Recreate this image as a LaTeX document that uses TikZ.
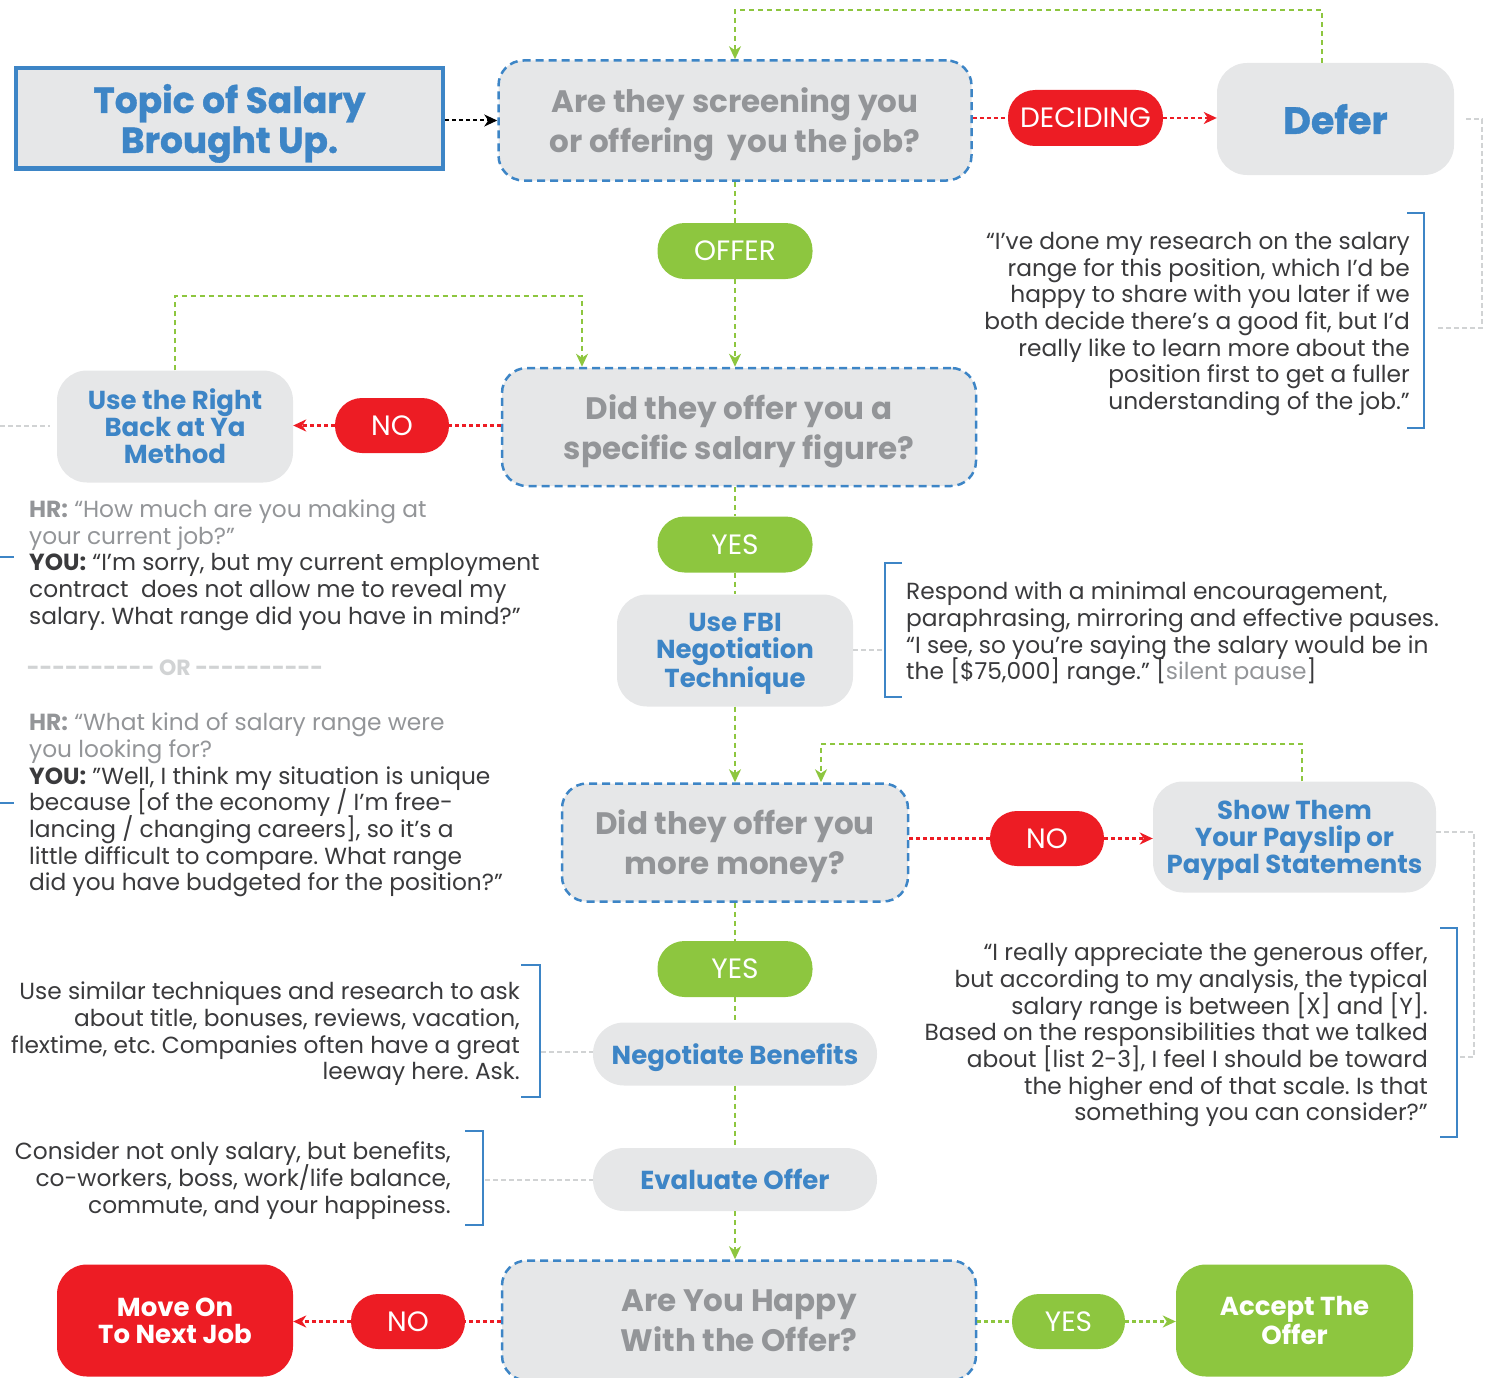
\documentclass[tikz,border=0pt]{standalone}
\usepackage{fontspec}
\setmainfont{Poppins}
\usetikzlibrary{positioning,calc,arrows.meta}

\definecolor{hrblue}{HTML}{3D85C6}
\definecolor{boxgray}{HTML}{E6E7E8}
\definecolor{askgray}{HTML}{939598}
\definecolor{nored}{HTML}{ED1C24}
\definecolor{yesgreen}{HTML}{8DC63F}
\definecolor{inkgray}{HTML}{3A3A3C}
\definecolor{notegray}{HTML}{D1D3D4}

\newcommand{\dashrow}{-{}-{}-{}-{}-{}-{}-{}-{}-{}-}
\newcommand{\sayfont}{\fontsize{23.3}{26.7}\selectfont\frenchspacing\lineskiplimit=-50pt\relax}

\tikzset{
  boxtext/.style={align=center, inner sep=0pt, text depth=0pt},
  question/.style={boxtext, draw=hrblue, line width=2.5pt, dash pattern=on 8pt off 5pt,
    fill=boxgray, rounded corners=25pt, text=askgray,
    font=\fontsize{31}{40}\selectfont\bfseries},
  stepbox/.style={boxtext, fill=boxgray, rounded corners=30pt, text=hrblue,
    font=\fontsize{26}{27}\selectfont\bfseries},
  pill/.style={boxtext, rounded corners=27pt, text=white,
    font=\fontsize{28}{30}\selectfont, minimum height=56pt},
  say/.style={text=inkgray, font=\sayfont, inner sep=0pt},
  flow/.style={yesgreen, line width=2pt, dash pattern=on 5pt off 4pt},
  okflow/.style={yesgreen, line width=2.5pt, dash pattern=on 4pt off 3pt},
  noflow/.style={nored, line width=2.5pt, dash pattern=on 4pt off 3pt},
  note/.style={notegray, line width=2.5pt, dash pattern=on 5pt off 3pt},
  brack/.style={hrblue, line width=2.5pt}
}

\begin{document}
\begin{tikzpicture}[x=1pt, y=-1pt, >={Stealth[length=13pt,width=12pt,inset=4pt]}]

  \useasboundingbox (0,0) rectangle (1494,1378);
  \clip (0,0) rectangle (1494,1378);

  % top row
  \node[boxtext, draw=hrblue, line width=4pt, fill=boxgray, minimum width=427pt, minimum height=100pt,
    text=hrblue, font=\fontsize{36}{40}\selectfont\bfseries\addfontfeature{FakeBold=1}]
    (topic) at (229.5,118.5) {Topic of Salary\\Brought Up.};
  \node[question, minimum width=473pt, minimum height=120pt] (scr) at (735,120.5)
    {Are they screening you\\or offering~ you the job?};
  \node[pill, fill=nored, minimum width=155pt] (dec) at (1085.5,118) {DECIDING};
  \node[stepbox, minimum width=237pt, minimum height=112pt,
    font=\fontsize{38}{40}\selectfont\bfseries\addfontfeature{FakeBold=1}] (defer) at (1335.5,119) {Defer};

  \node[say, align=right, anchor=east] (deferq) at (1410,324)
    {“I’ve done my research on the salary\\
     range for this position, which I’d be\\
     happy to share with you later if we\\
     both decide there’s a good fit, but I’d\\
     really like to learn more about the\\
     position first to get a fuller\\
     understanding of the job.”};

  % salary figure
  \node[pill, fill=yesgreen, minimum width=155pt] (offer) at (735,251) {OFFER};
  \node[question, minimum width=474pt, minimum height=118pt] (spec) at (739,427)
    {Did they offer you a\\specific salary figure?};
  \node[pill, fill=nored, minimum width=114pt, minimum height=55pt] (nob) at (392,425.5) {NO};
  \node[stepbox, minimum width=236pt, minimum height=112pt] (rb) at (175,426.5)
    {Use the Right\\Back at Ya\\Method};

  \node[say, align=left, anchor=west] (hrone) at (29,565)
    {\textcolor{askgray}{\textbf{HR:} “How much are you making at}\\
     \textcolor{askgray}{your current job?”}\\
     \textbf{YOU:} “I’m sorry, but my current employment\\
     contract~ does not allow me to reveal my\\
     salary. What range did you have in mind?”};
  \node[text=notegray, font=\fontsize{22}{26}\selectfont\bfseries, inner sep=0pt]
    (orline) at (175,668) {\dashrow{} OR \dashrow};
  \node[say, align=left, anchor=west] (hrtwo) at (29,805)
    {\textcolor{askgray}{\textbf{HR:} “What kind of salary range were}\\
     \textcolor{askgray}{you looking for?}\\
     \textbf{YOU:} ”Well, I think my situation is unique\\
     because [of the economy / I’m free-\\
     lancing / changing careers], so it’s a\\
     little difficult to compare. What range\\
     did you have budgeted for the position?”};

  \node[pill, fill=yesgreen, minimum width=155pt] (yesa) at (735,544.5) {YES};
  \node[stepbox, minimum width=236pt, minimum height=112pt] (fbi) at (735,650.5)
    {Use FBI\\Negotiation\\Technique};
  \node[say, align=left, anchor=west] (fbiq) at (906,634)
    {Respond with a minimal encouragement,\\
     paraphrasing, mirroring and effective pauses.\\
     “I see, so you’re saying the salary would be in\\
     the [\$75,000] range.” [\textcolor{askgray}{silent pause}]};

  % more money
  \node[question, minimum width=346pt, minimum height=118pt] (more) at (735,842.5)
    {Did they offer you\\more money?};
  \node[pill, fill=nored, minimum width=114pt, minimum height=55pt] (noc) at (1047,838.5) {NO};
  \node[stepbox, minimum width=283pt, minimum height=111pt] (show) at (1294.5,837)
    {Show Them\\Your Payslip or\\Paypal Statements};
  \node[say, align=right, anchor=east] (showq) at (1428,1035)
    {“I really appreciate the generous offer,\\
     but according to my analysis, the typical\\
     salary range is between [X] and [Y].\\
     Based on the responsibilities that we talked\\
     about [list 2-3], I feel I should be toward\\
     the higher end of that scale. Is that\\
     something you can consider?”};

  \node[pill, fill=yesgreen, minimum width=155pt] (yesb) at (735,969) {YES};
  \node[stepbox, minimum width=284pt, minimum height=63pt, rounded corners=31pt] (nego)
    at (735,1054) {Negotiate Benefits};
  \node[say, align=right, anchor=east] (negoq) at (520,1034)
    {Use similar techniques and research to ask\\
     about title, bonuses, reviews, vacation,\\
     flextime, etc. Companies often have a great\\
     leeway here. Ask.};
  \node[stepbox, minimum width=284pt, minimum height=63pt, rounded corners=31pt] (eval)
    at (735,1179.5) {Evaluate Offer};
  \node[say, align=right, anchor=east] (evalq) at (451,1180.5)
    {Consider not only salary, but benefits,\\
     co-workers, boss, work/life balance,\\
     commute, and your happiness.};

  % last question
  \node[question, minimum width=474pt, minimum height=120pt] (happy) at (739,1320.5)
    {Are You Happy\\With the Offer?};
  \node[pill, fill=nored, minimum width=114pt, minimum height=55pt] (nod) at (408,1321.5) {NO};
  \node[stepbox, fill=nored, text=white, minimum width=236pt, minimum height=112pt] (move)
    at (175,1320.5) {Move On\\To Next Job};
  \node[pill, fill=yesgreen, minimum width=113pt, minimum height=55pt] (yesc) at (1068.5,1321.5) {YES};
  \node[stepbox, fill=yesgreen, text=white, minimum width=237pt, minimum height=112pt] (accept)
    at (1294.5,1320.5) {Accept The\\Offer};

  % free ends
  \coordinate (looptop) at (1322,10);
  \coordinate (rbtop) at (175,296);
  \coordinate (shtop) at (1302,744);
  \coordinate (dfb) at (1437,328);
  \coordinate (rbl) at (0,426);
  \coordinate (fbib) at (883,650);
  \coordinate (shb) at (1458,1057);
  \coordinate (negob) at (541,1052);
  \coordinate (evalb) at (485,1180);

  % connectors
  \draw[black, line width=2pt, dash pattern=on 4pt off 3pt, ->] (topic.east |- scr) -- (scr.west);
  \draw[noflow] (scr.east |- dec) -- (dec.west);
  \draw[noflow,->] (dec.east) -- (defer.west |- dec);
  \draw[flow,->] (defer.north -| looptop) -- (looptop) -| (scr.north);

  \draw[flow] (scr.south) -- (offer.north);
  \draw[flow,->] (offer.south) -- (offer |- spec.north);
  \draw[noflow] (spec.west |- nob) -- (nob.east);
  \draw[noflow,->] (nob.west) -- (rb.east |- nob);
  \draw[flow,->] (rb.north) -- (rbtop) -| ([xshift=-157pt]spec.north);

  \draw[flow] (yesa |- spec.south) -- (yesa.north);
  \draw[flow] (yesa.south) -- (fbi.north);
  \draw[flow,->] (fbi.south) -- (more.north);
  \draw[noflow] (more.east |- noc) -- (noc.west);
  \draw[noflow,->] (noc.east) -- (show.west |- noc);
  \draw[flow,->] (show.north -| shtop) -- (shtop) -| ([xshift=86pt]more.north);

  \draw[flow] (more.south) -- (yesb.north);
  \draw[flow] (yesb.south) -- (nego.north);
  \draw[flow] (nego.south) -- (eval.north);
  \draw[flow,->] (eval.south) -- (eval |- happy.north);
  \draw[noflow] (happy.west |- nod) -- (nod.east);
  \draw[noflow,->] (nod.west) -- (move.east |- nod);
  \draw[okflow] (happy.east |- yesc) -- (yesc.west);
  \draw[okflow,->] (yesc.east) -- (accept.west |- yesc);

  % notes
  \draw[note] ([xshift=12pt]defer.east) -- ++(16,0) |- (dfb);
  \draw[note] (rbl) -- ([xshift=-7pt]rb.west |- rbl);
  \draw[note] (fbi.east |- fbib) -- (fbib);
  \draw[note] ([yshift=5pt]show.east) -- ++(38,0) |- (shb);
  \draw[note] (negob) -- (negob -| nego.west);
  \draw[note] (evalb) -- (evalb -| eval.west);

  % brackets
  \draw[brack] (1407,213) -- (1424,213) -- (1424,428) -- (1407,428);
  \draw[brack] (902,563) -- (885,563) -- (885,697) -- (902,697);
  \draw[brack] (1440,928) -- (1457,928) -- (1457,1137) -- (1440,1137);
  \draw[brack] (521,965) -- (540,965) -- (540,1097) -- (521,1097);
  \draw[brack] (465,1131) -- (483,1131) -- (483,1225) -- (465,1225);
  \draw[brack] (0,557) -- (14,557);
  \draw[brack] (0,803) -- (14,803);

\end{tikzpicture}
\end{document}
